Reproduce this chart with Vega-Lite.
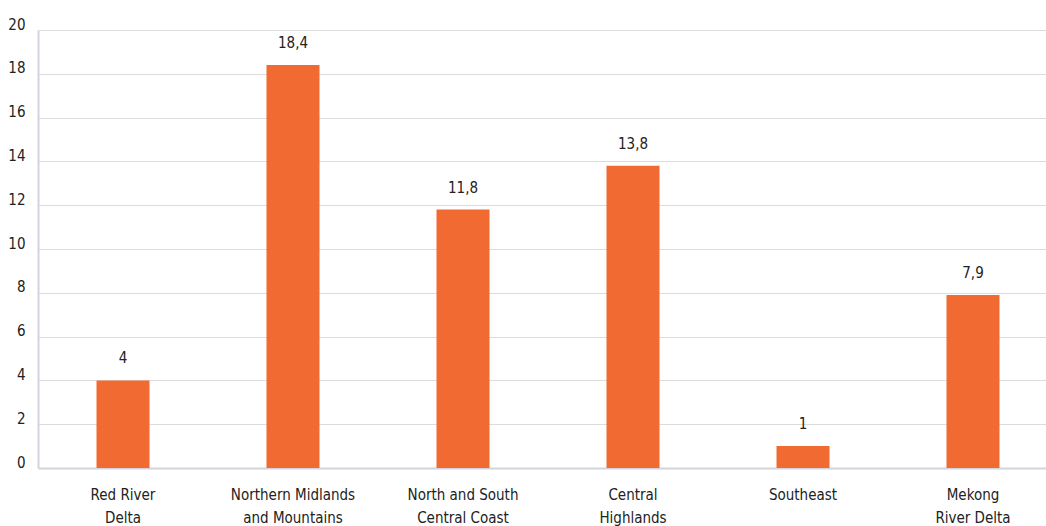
{
  "$schema": "https://vega.github.io/schema/vega-lite/v6.json",
  "width": 1020,
  "height": 438,
  "autosize": {"type": "none"},
  "padding": {"left": 38, "top": 30, "right": 0, "bottom": 58},
  "background": "white",
  "config": {
    "locale": {"number": {"decimal": ",", "thousands": ".", "grouping": [3], "currency": ["", ""]}},
    "view": {"stroke": null},
    "font": "DejaVu Sans Condensed, Roboto, sans-serif"
  },
  "data": {
    "values": [
      {"region": "Red River Delta", "value": 4},
      {"region": "Northern Midlands and Mountains", "value": 18.4},
      {"region": "North and South Central Coast", "value": 11.8},
      {"region": "Central Highlands", "value": 13.8},
      {"region": "Southeast", "value": 1},
      {"region": "Mekong River Delta", "value": 7.9}
    ]
  },
  "encoding": {
    "x": {
      "field": "region",
      "type": "nominal",
      "sort": null,
      "scale": {"paddingInner": 0.69, "paddingOuter": 0.345},
      "axis": {
        "title": null,
        "labelAngle": 0,
        "ticks": false,
        "domainColor": "#d4d4dc",
        "domainWidth": 2,
        "labelPadding": 19,
        "labelFont": "DejaVu Sans Condensed, Roboto, sans-serif",
        "labelFontSize": 15,
        "labelColor": "#222222",
        "labelLineHeight": 23,
        "labelBaseline": "top",
        "labelExpr": "datum.label == 'Red River Delta' ? ['Red River', 'Delta'] : datum.label == 'Northern Midlands and Mountains' ? ['Northern Midlands', 'and Mountains'] : datum.label == 'North and South Central Coast' ? ['North and South', 'Central Coast'] : datum.label == 'Central Highlands' ? ['Central', 'Highlands'] : datum.label == 'Mekong River Delta' ? ['Mekong', 'River Delta'] : datum.label"
      }
    },
    "y": {
      "field": "value",
      "type": "quantitative",
      "scale": {"domain": [0, 20], "nice": false},
      "axis": {
        "title": null,
        "values": [0, 2, 4, 6, 8, 10, 12, 14, 16, 18, 20],
        "ticks": false,
        "domainColor": "#d4d4dc",
        "domainWidth": 2,
        "gridColor": "#dcdcdc",
        "gridWidth": 1,
        "labelPadding": 13,
        "labelFont": "DejaVu Sans Condensed, Roboto, sans-serif",
        "labelFontSize": 15,
        "labelColor": "#222222",
        "labelBaseline": "alphabetic",
        "labelOffset": -1
      }
    }
  },
  "layer": [
    {"mark": {"type": "bar", "color": "#F16A31", "size": 53}},
    {
      "mark": {"type": "text", "baseline": "alphabetic", "dy": -17, "fontSize": 15, "color": "#222222", "font": "DejaVu Sans Condensed, Roboto, sans-serif"},
      "encoding": {"text": {"field": "value", "type": "quantitative", "format": "~g"}}
    }
  ]
}
